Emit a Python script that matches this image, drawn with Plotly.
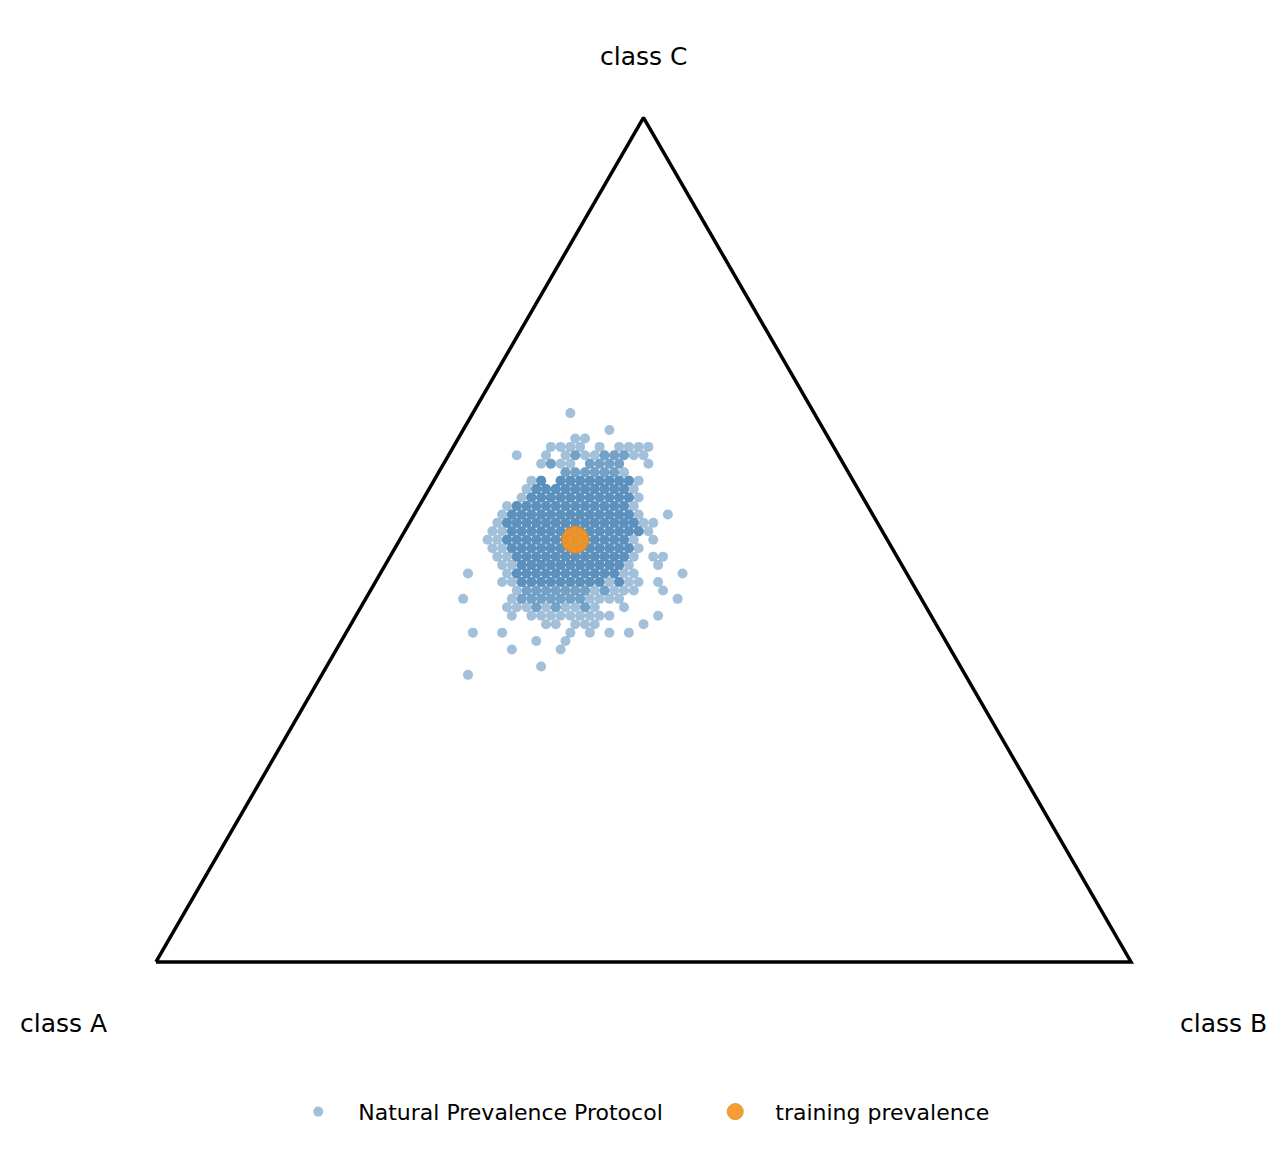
import math
import plotly.graph_objects as go

N = 100  # sample size; prevalences are counts / N
# rows of the sample cloud: (count of class C, list of counts of class B)
rows_c = [65, 63, 62, 61, 60, 59, 58, 57, 56, 55, 54, 53, 52, 51, 50, 49, 48, 47, 46, 45, 44, 43, 42, 41, 40, 39, 38, 37, 35, 34]
rows_b = [
    [10], [15], [12, 13],
    [10, 11, 12, 13, 15, 17, 18, 19, 20],
    [7, 10, 12, 13, 14, 15, 16, 17, 18, 19, 20],
    [10, 11, 12, 13, 15, 16, 17, 18, 21],
    [13, 14, 15, 16, 17, 18, 19],
    [10, 11, 13, 14, 15, 16, 17, 18, 19, 20, 21],
    [10, 11, 12, 13, 14, 15, 16, 17, 18, 19, 20, 21],
    [10, 11, 12, 13, 14, 15, 16, 17, 18, 19, 20, 21, 22],
    [9, 10, 11, 12, 13, 14, 15, 16, 17, 18, 19, 20, 21, 22],
    [9, 10, 11, 12, 13, 14, 15, 16, 17, 18, 19, 20, 21, 22, 23, 26],
    [9, 10, 11, 12, 13, 14, 15, 16, 17, 18, 19, 20, 21, 22, 23, 24, 25],
    [9, 10, 11, 12, 13, 14, 15, 16, 17, 18, 19, 20, 21, 22, 23, 24, 25],
    [9, 10, 11, 12, 13, 14, 15, 16, 17, 18, 19, 20, 21, 22, 23, 24, 26],
    [10, 11, 12, 13, 14, 15, 16, 17, 18, 19, 20, 21, 22, 23, 24, 25],
    [11, 12, 13, 14, 15, 16, 17, 18, 19, 20, 21, 22, 23, 24, 25, 27, 28],
    [12, 13, 14, 15, 16, 17, 18, 19, 20, 21, 22, 23, 24, 25, 28],
    [9, 13, 14, 15, 16, 17, 18, 19, 20, 21, 22, 23, 24, 25, 26, 31],
    [13, 14, 15, 16, 17, 18, 19, 20, 21, 22, 23, 24, 25, 26, 27, 29],
    [15, 16, 17, 18, 19, 20, 21, 22, 23, 24, 25, 26, 27, 30],
    [10, 15, 16, 17, 18, 19, 20, 21, 22, 23, 24, 25, 26, 32],
    [15, 16, 17, 18, 19, 20, 21, 22, 23, 24, 27],
    [16, 18, 19, 20, 21, 22, 23, 24, 25, 26, 31],
    [20, 21, 23, 24, 25, 30],
    [13, 16, 23, 25, 27, 29],
    [20, 23], [18, 23], [22], [15],
]
# repeated (darker) samples near the centre
core_c = [60, 59, 58, 57, 56, 55, 54, 53, 52, 51, 50, 49, 48, 47, 46, 45, 44, 43, 42]
core_b = [
    [13, 16, 17, 18], [11, 15, 16, 17, 18], [13, 14, 15, 16, 17, 18],
    [11, 13, 14, 15, 16, 17, 18, 19, 20], [11, 12, 13, 14, 15, 16, 17, 18, 19, 20],
    [11, 12, 13, 14, 15, 16, 17, 18, 19, 20, 21], [10, 11, 12, 13, 14, 15, 16, 17, 18, 19, 20, 21],
    [10, 11, 12, 13, 14, 15, 16, 17, 18, 19, 20, 21, 22], [10, 11, 12, 13, 14, 15, 16, 17, 18, 19, 20, 21, 22, 23],
    [11, 12, 13, 14, 15, 16, 17, 18, 19, 20, 21, 22, 23, 24], [11, 12, 13, 14, 15, 16, 17, 18, 19, 20, 21, 22, 23],
    [12, 13, 14, 15, 16, 17, 18, 19, 20, 21, 22, 23, 24], [13, 14, 15, 16, 17, 18, 19, 20, 21, 22, 23, 24],
    [14, 15, 16, 17, 18, 19, 20, 21, 22, 23, 24], [14, 15, 16, 17, 18, 19, 20, 21, 22, 23, 24],
    [15, 16, 17, 18, 19, 20, 21, 22, 23, 25], [16, 17, 18, 19, 20, 21, 22, 24],
    [16, 17, 18, 19, 20, 21, 22], [18, 20, 23],
]
train_prev = [0.32, 0.18, 0.50]  # class A, B, C
labels = ["class A", "class B", "class C"]

S3 = math.sqrt(3) / 2

def to_xy(pb, pc):
    return pb + pc / 2, pc * S3

xs, ys = [], []
pairs = list(zip(rows_c, rows_b)) + list(zip(core_c, core_b)) + list(zip(core_c[3:-3], core_b[3:-3]))
for c, bl in pairs:
    for b in bl:
        x, y = to_xy(b / N, c / N)
        xs.append(x); ys.append(y)

fig = go.Figure()
fig.add_trace(go.Scatter(x=[0, 1, 0.5, 0], y=[0, 0, S3, 0], mode="lines",
                         line=dict(color="black", width=3.5), showlegend=False, hoverinfo="skip"))
fig.add_trace(go.Scatter(x=xs, y=ys, mode="markers", name="Natural Prevalence Protocol",
                         marker=dict(color="#4682b4", size=10, opacity=0.5, line=dict(width=0))))
tx, ty = to_xy(train_prev[1], train_prev[2])
fig.add_trace(go.Scatter(x=[tx], y=[ty], mode="markers", name="training prevalence",
                         marker=dict(color="#f7931e", size=27, opacity=0.9,
                                     line=dict(width=1, color="#e08a1e"))))

font = dict(family="DejaVu Sans", size=25, color="black")
for (x, y, t) in [(-0.095, -0.063, labels[0]), (1.095, -0.063, labels[1]), (0.5, S3 + 0.063, labels[2])]:
    fig.add_annotation(x=x, y=y, text=t, showarrow=False, font=font)

fig.update_layout(
    width=1287, height=1151, margin=dict(l=0, r=0, t=0, b=0),
    plot_bgcolor="white", paper_bgcolor="white",
    xaxis=dict(range=[-0.1518, 1.1682], visible=False, fixedrange=True),
    yaxis=dict(range=[-0.2021, 0.9784], visible=False, fixedrange=True),
    legend=dict(orientation="h", x=0.534, xanchor="center", y=0.041, yanchor="middle",
                font=dict(family="DejaVu Sans", size=22, color="black"), itemsizing="trace",
                itemwidth=70, entrywidth=332, bgcolor="rgba(0,0,0,0)"),
    showlegend=True,
)
fig.write_html("out.html")
